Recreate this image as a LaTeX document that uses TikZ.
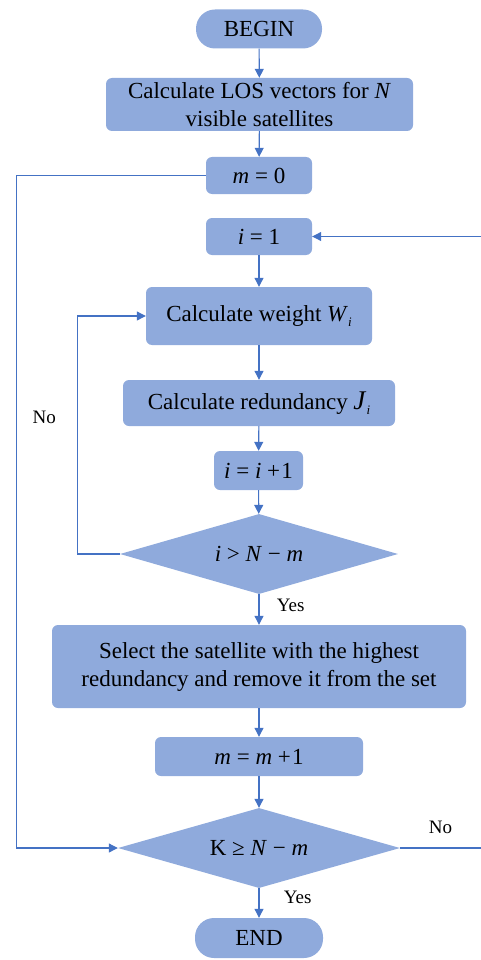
\documentclass[tikz,border=0pt]{standalone}
\usepackage{fontspec}
\setmainfont{Liberation Serif}
\usepackage{xcolor}
\usetikzlibrary{arrows.meta,positioning,shapes.geometric}

\definecolor{boxfill}{HTML}{8FAADC}
\definecolor{linecol}{HTML}{4472C4}

\newcommand{\eqsp}{\hspace{0.25em}}
\newcommand{\subi}{\raisebox{-0.5ex}{\fontsize{13}{13}\selectfont\textit{i}}}

\begin{document}
\begin{tikzpicture}[
  x=1pt, y=-1pt,
  box/.style={fill=boxfill, rounded corners=6pt, inner sep=0pt,
              font=\fontsize{23}{28}\selectfont, align=center},
  term/.style={box, rounded corners=19pt},
  cond/.style={diamond, aspect=3.5, fill=boxfill, inner sep=0pt,
               font=\fontsize{23}{28}\selectfont},
  arr/.style={-{Triangle[length=9pt,width=9pt]}, linecol, line width=1.1pt},
  ln/.style={linecol, line width=1.1pt},
  lbl/.style={text=black, font=\fontsize{19}{21}\selectfont}
]
  \useasboundingbox (0,0) rectangle (481,960);

  % main column
  \node[term, minimum width=126pt, minimum height=39pt] (begin) at (259,29) {BEGIN};
  \node[box, minimum width=307pt, minimum height=53pt] (los) at (259.5,104.5)
    {Calculate LOS vectors for \textit{N}\\visible satellites};
  \node[box, minimum width=106pt, minimum height=37pt] (mzero) at (259,175.5)
    {\textit{m}\eqsp=\eqsp0};
  \node[box, minimum width=106pt, minimum height=37pt] (ione) at (259,236.5)
    {\textit{i}\eqsp=\eqsp1};
  \node[box, minimum width=226pt, minimum height=58pt] (weight) at (259,316)
    {Calculate weight \textit{W}\subi};
  \node[box, minimum width=272pt, minimum height=46pt] (redund) at (259,403)
    {Calculate redundancy \textit{\fontsize{27}{28}\selectfont J}\subi};
  \node[box, minimum width=89pt, minimum height=39pt] (inc) at (258.5,470.5)
    {\textit{i}\eqsp=\eqsp\textit{i}\eqsp+\hspace{0.05em}1};
  \node[cond, minimum width=278pt, minimum height=80pt] (check) at (259,554)
    {\textit{i}\eqsp>\eqsp\textit{N}\eqsp−\eqsp\textit{m}};
  \node[box, minimum width=414pt, minimum height=83pt] (select) at (259,666.5)
    {Select the satellite with the highest\\redundancy and remove it from the set};
  \node[box, minimum width=208pt, minimum height=39pt] (minc) at (259,756.5)
    {\textit{m}\eqsp=\eqsp\textit{m}\eqsp+\hspace{0.05em}1};
  \node[cond, minimum width=282pt, minimum height=80pt] (stop) at (259,848)
    {K\eqsp≥\eqsp\textit{N}\eqsp−\eqsp\textit{m}};
  \node[term, minimum width=128pt, minimum height=40pt] (end) at (259,938) {END};

  % free ends at the right edge
  \coordinate (inright) at (481,236.5);
  \coordinate (outright) at (481,848);

  \draw[arr] (begin) -- (los);
  \draw[arr] (los) -- (mzero);
  \draw[arr] (ione) -- (weight);
  \draw[arr] (weight) -- (redund);
  \draw[arr] (redund) -- (inc);
  \draw[arr] (inc) -- (check);
  \draw[arr] (check) -- node[lbl, right=14pt, pos=0.35] {Yes} (select);
  \draw[arr] (select) -- (minc);
  \draw[arr] (minc) -- (stop);
  \draw[arr] (stop) -- node[lbl, right=21pt, pos=0.3] {Yes} (end);
  \draw[arr] (inright) -- (ione);

  % loops
  \draw[arr] (check.west) -- ++(-42,0) |- (weight.west);
  \draw[arr] (mzero.west) -- ++(-189,0) |- node[lbl, pos=0.18, right=12pt] {No} (stop.west);
  \draw[ln] (stop.east) -- node[lbl, above=10pt] {No} (outright);
\end{tikzpicture}
\end{document}
